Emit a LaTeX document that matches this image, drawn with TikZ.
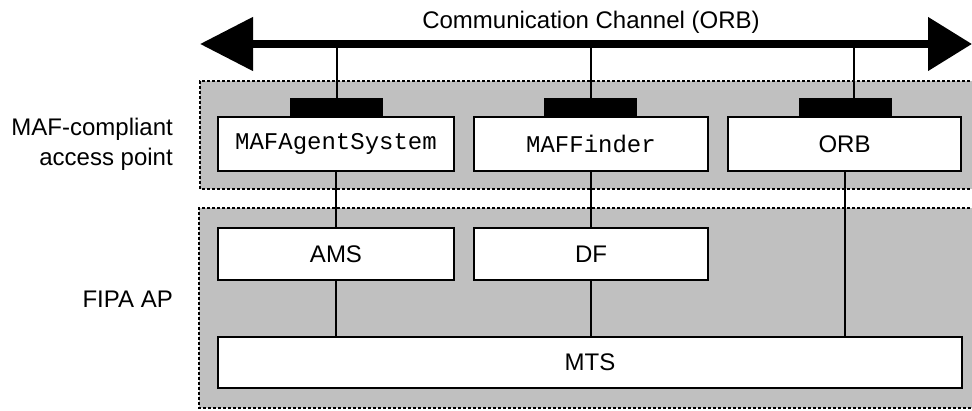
\documentclass[tikz,border=0pt]{standalone}
\usepackage{fontspec}
\setmainfont{Liberation Sans}
\setmonofont{Liberation Mono}
\usetikzlibrary{arrows.meta}
\definecolor{regionfill}{RGB}{192,192,192}
\begin{document}
\begin{tikzpicture}[x=1pt,y=-1pt,
  box/.style={draw,line width=2pt,fill=white,inner sep=0pt,font=\fontsize{24}{28}\selectfont},
  toprow/.style={box,minimum height=54pt},
  botrow/.style={box,minimum height=52pt},
  tab/.style={fill=black,inner sep=0pt,minimum width=93pt,minimum height=18pt},
  rborder/.style={line width=1.5pt,dash pattern=on 3pt off 2pt},
  conn/.style={line width=2pt},
  chan/.style={line width=8pt,{Triangle[length=53pt,width=52pt]}-{Triangle[length=44pt,width=52pt]}},
  lbl/.style={font=\fontsize{24}{30}\selectfont,align=right,anchor=east,inner sep=0pt}]
\useasboundingbox (0,0) rectangle (972,411);
\clip (0,0) rectangle (972,411);
% regions
\fill[regionfill] (200,81) rectangle (990,189);
\draw[rborder] (990,81) -- (200,81) -- (200,189) -- (990,189);
\fill[regionfill] (199,208) rectangle (990,408);
\draw[rborder] (990,208) -- (199,208) -- (199,408) -- (990,408);
% channel
\coordinate (chanL) at (200,44);
\coordinate (chanR) at (972,44);
\draw[chan] (chanL) -- (chanR);
\node[font=\fontsize{24}{28}\selectfont,inner sep=0pt] (title) at (591,22) {Communication Channel (ORB)};
% labels
\node[lbl] (lblMAF) at (173,144) {MAF-compliant\\access point};
\node[lbl] (lblFIPA) at (173,299) {FIPA AP};
% top row
\node[toprow,minimum width=236pt] (maf) at (336,144) {\ttfamily MAFAgentSystem};
\node[toprow,minimum width=234pt] (finder) at (591,144) {\ttfamily MAFFinder};
\node[toprow,minimum width=233pt] (orb) at (844.5,144) {ORB};
% tabs
\node[tab] (tabA) at (336.5,107) {};
\node[tab] (tabF) at (590.5,107) {};
\node[tab] (tabO) at (845.5,107) {};
\draw[conn] (tabA.north) -- (tabA.north |- chanL);
\draw[conn] (tabF.north) -- (tabF.north |- chanL);
\draw[conn] ([xshift=8.5pt]tabO.north) -- ([xshift=8.5pt]tabO.north |- chanL);
% bottom rows
\node[botrow,minimum width=236pt] (ams) at (336,254) {AMS};
\node[botrow,minimum width=234pt] (df) at (591,254) {DF};
\node[botrow,minimum width=744pt,minimum height=51pt] (mts) at (590,362.5) {MTS};
% connectors
\draw[conn] (maf.south) -- (ams.north);
\draw[conn] (finder.south) -- (df.north);
\draw[conn] (ams.south) -- (ams.south |- mts.north);
\draw[conn] (df.south) -- (df.south |- mts.north);
\draw[conn] (orb.south) -- (orb.south |- mts.north);
\end{tikzpicture}
\end{document}
